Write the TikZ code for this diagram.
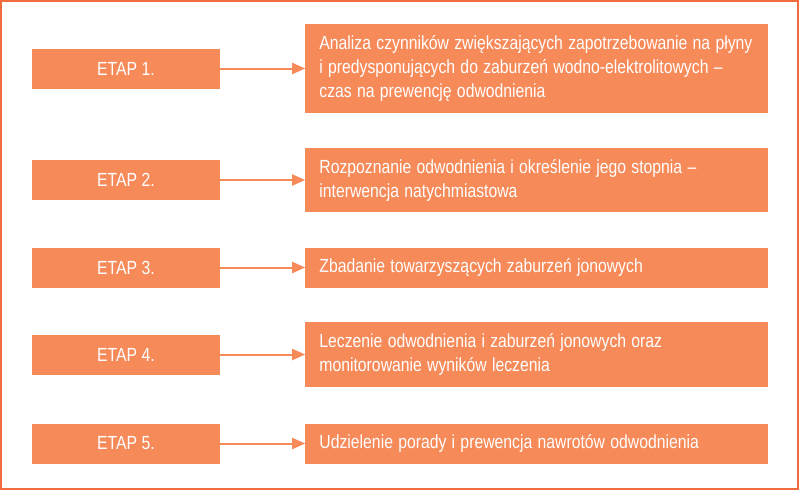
\documentclass[tikz,border=0pt]{standalone}
\usepackage{fontspec}
\setmainfont{Liberation Sans}
\usepackage{graphicx}
\usepackage{tikz}
\usetikzlibrary{positioning, arrows.meta}
\definecolor{etapfill}{HTML}{F68A59}
\definecolor{ramka}{HTML}{F26B3D}
\newcommand{\waski}[1]{\scalebox{0.83}[1]{#1}} % condensed line of text
\tikzset{
    x=1pt, y=-1pt, % one unit is one pixel of the layout
    etap/.style={fill=etapfill, text=white, minimum width=188pt, minimum height=40pt, inner sep=0pt, font=\fontsize{19}{24}\selectfont}, % left boxes
    opis/.style={fill=etapfill, text=white, anchor=west, minimum width=463pt, inner xsep=14pt, inner ysep=0pt, text width=435pt, align=left, font=\fontsize{19}{24}\selectfont}, % right boxes
    strzalka/.style={-{Triangle[length=13pt, width=11pt]}, line width=2pt, draw=etapfill}, % arrows
}
\begin{document}
\begin{tikzpicture}
    \useasboundingbox (0,0) rectangle (800,491);
    \draw[ramka, line width=2pt] (1,1) rectangle (798,489);
    \node[etap] (e1) at (126,68.5) {\waski{ETAP 1.}};
    \node[etap] (e2) at (126,180) {\waski{ETAP 2.}};
    \node[etap] (e3) at (126,267.5) {\waski{ETAP 3.}};
    \node[etap] (e4) at (126,354.5) {\waski{ETAP 4.}};
    \node[etap] (e5) at (126,443.5) {\waski{ETAP 5.}};
    \node[opis, minimum height=89pt, right=85pt of e1] (o1) {\waski{Analiza czynników zwiększających zapotrzebowanie na płyny}\\ \waski{i predysponujących do zaburzeń wodno-elektrolitowych –}\\ \waski{czas na prewencję odwodnienia}};
    \node[opis, minimum height=64pt, right=85pt of e2] (o2) {\waski{Rozpoznanie odwodnienia i określenie jego stopnia –}\\ \waski{interwencja natychmiastowa}};
    \node[opis, minimum height=40pt, right=85pt of e3] (o3) {\waski{Zbadanie towarzyszących zaburzeń jonowych}};
    \node[opis, minimum height=65pt, right=85pt of e4] (o4) {\waski{Leczenie odwodnienia i zaburzeń jonowych oraz}\\ \waski{monitorowanie wyników leczenia}};
    \node[opis, minimum height=40pt, right=85pt of e5] (o5) {\waski{Udzielenie porady i prewencja nawrotów odwodnienia}};
    \draw[strzalka] (e1) -- (o1);
    \draw[strzalka] (e2) -- (o2);
    \draw[strzalka] (e3) -- (o3);
    \draw[strzalka] (e4) -- (o4);
    \draw[strzalka] (e5) -- (o5);
\end{tikzpicture}
\end{document}
